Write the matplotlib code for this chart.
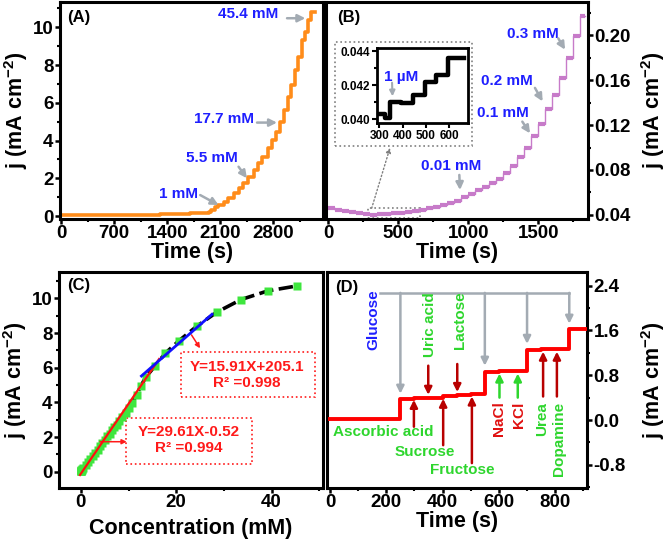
import matplotlib
matplotlib.use('Agg')
import matplotlib.pyplot as plt
from matplotlib import font_manager as fm
from matplotlib.patches import Rectangle
from matplotlib.ticker import MultipleLocator


def has_bold(name):
    for f in fm.fontManager.ttflist:
        if f.name == name and str(f.weight) in ('700', 'bold', '600', 'semibold', '800'):
            return True
    return False


family = 'DejaVu Sans'
for cand in ['Liberation Sans', 'Arimo', 'Roboto', 'Noto Sans', 'Open Sans', 'Lato', 'Inter']:
    if has_bold(cand):
        family = cand
        break
k = 0.9 if family == 'DejaVu Sans' else 1.0

plt.rcParams['font.family'] = [family, 'DejaVu Sans']
plt.rcParams['font.weight'] = 'bold'
plt.rcParams['axes.labelweight'] = 'bold'
plt.rcParams['mathtext.fontset'] = 'custom'
plt.rcParams['mathtext.rm'] = family + ':bold'
plt.rcParams['mathtext.default'] = 'rm'
plt.rcParams['axes.linewidth'] = 2.2

# ---- panel A : amperometric response, orange staircase
a_t = [0, 300, 700, 1000, 1300, 1500, 1700, 1850, 1950,
       1980, 2030, 2077, 2144, 2205, 2276, 2344, 2399, 2468, 2540, 2598, 2656,
       2730, 2784, 2832, 2884, 2937, 2993, 3037, 3089, 3128, 3180, 3214, 3263, 3295, 3345]
a_j = [0.07, 0.06, 0.06, 0.07, 0.08, 0.10, 0.14, 0.18, 0.23,
       0.32, 0.46, 0.58, 0.76, 0.94, 1.20, 1.47, 1.73, 2.08, 2.44, 2.79, 3.14,
       3.60, 4.03, 4.47, 5.00, 5.62, 6.32, 6.94, 7.74, 8.44, 9.30, 9.77, 10.40, 10.83, 10.83]
a_labels = ['1 mM', '5.5 mM', '17.7 mM', '45.4 mM']
a_text_xy = [(1550, 1.17), (1990, 3.1), (2153, 5.14), (2470, 10.7)]
a_tail = [(1836, 1.11), (2342, 2.61), (2585, 4.95), (2981, 10.48)]
a_tip = [(2078, 0.58), (2452, 2.0), (2849, 4.95), (3223, 10.48)]

# ---- panel B : low concentration staircase, purple
b_t = [0, 50, 100, 150, 200, 250, 300, 345, 395, 445, 495, 545, 595, 650, 700,
       750, 800, 850, 900, 950, 1000, 1050, 1100, 1150, 1200, 1250, 1300, 1350,
       1400, 1450, 1500, 1550, 1600, 1650, 1700, 1750, 1800, 1830]
b_j = [0.0460, 0.0448, 0.0436, 0.0426, 0.0417, 0.0410, 0.0403, 0.0410, 0.0410,
       0.0415, 0.0421, 0.0426, 0.0436, 0.0447, 0.0458, 0.0470, 0.0485, 0.0503,
       0.0522, 0.0560, 0.0590, 0.0620, 0.0650, 0.0685, 0.0720, 0.0770, 0.0836,
       0.0918, 0.0993, 0.1100, 0.1210, 0.1340, 0.1470, 0.1620, 0.1800, 0.1990,
       0.2170, 0.2170]
b_labels = ['0.01 mM', '0.1 mM', '0.2 mM', '0.3 mM']
b_text_xy = [(881, 0.0837), (1250, 0.131), (1274, 0.159), (1459, 0.201)]
b_tail = [(936, 0.0756), (1386, 0.123), (1476, 0.153), (1643, 0.197)]
b_tip = [(941, 0.0622), (1441, 0.1126), (1531, 0.141), (1691, 0.187)]

# inset of B
in_t = [300, 325, 345, 395, 445, 495, 545, 595, 665]
in_j = [0.04030, 0.04005, 0.04100, 0.04093, 0.04143, 0.04218, 0.04258, 0.04362, 0.04362]

# ---- panel C : calibration curve
c_conc = [0.0, 0.01, 0.02, 0.05, 0.1, 0.2, 0.3, 0.5, 1.0, 1.5, 2.0, 2.5, 3.0, 3.5,
          4.0, 4.5, 5.0, 5.5, 6.0, 6.5, 7.0, 7.5, 8.0, 8.7, 9.4, 10.1, 10.8, 11.7,
          12.6, 13.6, 15.6, 17.7, 20.6, 24.4, 28.5, 33.6, 39.2, 45.4]
c_j = [0.02, 0.03, 0.04, 0.05, 0.07, 0.10, 0.14, 0.20, 0.38, 0.55, 0.72, 0.90,
       1.08, 1.28, 1.47, 1.66, 1.85, 2.04, 2.20, 2.38, 2.55, 2.72, 2.90, 3.15,
       3.40, 3.70, 3.98, 4.45, 4.95, 5.45, 6.12, 6.83, 7.56, 8.41, 9.20, 9.93,
       10.43, 10.72]
fit1_x = [-0.2, 16.4]
fit1_y = [-0.19, 6.5]
fit2_x = [12.7, 27.5]
fit2_y = [5.52, 9.08]

# ---- panel D : interference test
d_t = [0, 250, 300, 350, 400, 450, 500, 550, 600, 650, 700, 750, 800, 850, 913]
d_j = [0.02, 0.38, 0.39, 0.40, 0.42, 0.44, 0.46, 0.86, 0.87, 0.88, 1.25, 1.26,
       1.27, 1.63, 1.63]
glu_t = [250, 550, 700, 850]
glu_end = [0.47, 0.97, 1.36, 1.72]

orange = '#ff8c1a'
purple = '#c77bc9'
blue = '#1f1fff'
gray = '#a3abb3'
green = '#2ed62e'
red = '#ff1a1a'
dred = '#b80000'

TICK = 13.5 * k
LAB = 15.5 * k
ANN = 11 * k

fig = plt.figure(figsize=(6.66, 5.4), dpi=100)


def style(ax, right=False):
    ax.tick_params(which='both', direction='out', labelsize=TICK, width=1.8, pad=0.8)
    ax.tick_params(which='major', length=3.8)
    ax.tick_params(which='minor', length=2.2, width=1.5)
    if right:
        ax.yaxis.tick_right()
        ax.yaxis.set_label_position('right')


def garrow(ax, tail, tip, color=gray, lw=1.8, ms=11, ls='-'):
    ax.annotate('', xy=tip, xytext=tail,
                arrowprops=dict(arrowstyle='-|>', color=color, lw=lw,
                                mutation_scale=ms, shrinkA=0, shrinkB=0, ls=ls))


# ---------------- A
ax = fig.add_axes([0.0901, 0.5944, 0.3953, 0.4019])
ax.plot(a_t, a_j, drawstyle='steps-post', color=orange, lw=2.6)
ax.set_xlim(-13, 3459)
ax.set_ylim(-0.16, 11.34)
ax.xaxis.set_major_locator(MultipleLocator(700))
ax.xaxis.set_minor_locator(MultipleLocator(350))
ax.yaxis.set_major_locator(MultipleLocator(2))
ax.yaxis.set_minor_locator(MultipleLocator(1))
style(ax)
for lab, xy, tl, tp in zip(a_labels, a_text_xy, a_tail, a_tip):
    ax.text(xy[0], xy[1], lab, color=blue, fontsize=ANN, ha='center', va='center')
    garrow(ax, tl, tp)
ax.text(0.027, 0.963, '(A)', transform=ax.transAxes, fontsize=12 * k, va='top')
ax.set_xlabel('Time (s)', fontsize=LAB, labelpad=0)
ax.set_ylabel('j (mA cm$^{-2}$)', fontsize=LAB)
ax.yaxis.set_label_coords(-0.115, 0.5)

# ---------------- B
ax = fig.add_axes([0.4895, 0.5944, 0.3934, 0.4019])
ax.plot(b_t, b_j, drawstyle='steps-post', color=purple, lw=1.0)
ax.hlines(b_j[:-1], b_t[:-1], b_t[1:], color=purple, lw=3)
ax.set_xlim(-16, 1855)
ax.set_ylim(0.0364, 0.2294)
ax.xaxis.set_major_locator(MultipleLocator(500))
ax.xaxis.set_minor_locator(MultipleLocator(250))
ax.yaxis.set_major_locator(MultipleLocator(0.04))
ax.yaxis.set_minor_locator(MultipleLocator(0.02))
ax.yaxis.set_major_formatter(plt.FormatStrFormatter('%.2f'))
style(ax, right=True)
for lab, xy, tl, tp in zip(b_labels, b_text_xy, b_tail, b_tip):
    ax.text(xy[0], xy[1], lab, color=blue, fontsize=ANN, ha='center', va='center')
    garrow(ax, tl, tp)
ax.add_patch(Rectangle((48, 0.1016), 976, 0.0924, fill=False, ls=':', lw=1.2,
                       ec='#7f7f7f'))
ax.add_patch(Rectangle((286, 0.0371), 369, 0.0089, fill=False, ls=':', lw=1.2,
                       ec='#7f7f7f'))
garrow(ax, (310, 0.046), (441, 0.0997), color='#7f7f7f', lw=1.0, ms=7, ls=':')
ax.text(0.041, 0.963, '(B)', transform=ax.transAxes, fontsize=12 * k, va='top')
ax.set_xlabel('Time (s)', fontsize=LAB, labelpad=0)
ax.set_ylabel('j (mA cm$^{-2}$)', fontsize=LAB)
ax.yaxis.set_label_coords(1.195, 0.5)

# inset
ai = fig.add_axes([0.5656, 0.7717, 0.1366, 0.1389])
ai.plot(in_t, in_j, drawstyle='steps-post', color='black', lw=3.2)
ai.set_xlim(289, 680)
ai.set_ylim(0.03976, 0.04418)
ai.xaxis.set_major_locator(MultipleLocator(100))
ai.yaxis.set_major_locator(MultipleLocator(0.002))
ai.yaxis.set_minor_locator(MultipleLocator(0.001))
ai.yaxis.set_major_formatter(plt.FormatStrFormatter('%.3f'))
for s in ai.spines.values():
    s.set_linewidth(2)
ai.tick_params(which='both', direction='out', labelsize=8.5 * k, width=1.5, pad=1.2)
ai.tick_params(which='major', length=3.5)
ai.tick_params(which='minor', length=2)
ai.text(392, 0.04250, '1 \u00b5M', color=blue, fontsize=ANN, ha='center', va='center')
garrow(ai, (355, 0.04215), (357, 0.04135), lw=1.5, ms=8)

# ---------------- C
ax = fig.add_axes([0.0886, 0.0963, 0.3964, 0.4])
ax.plot(c_conc, c_j, color='black', lw=2.6, ls=(0, (4, 1.5)), zorder=2)
ax.plot(c_conc, c_j, ls='none', marker='s', ms=6, color='#3ee63e', mec='none', zorder=3)
ax.plot(fit1_x, fit1_y, color='#ff1010', lw=1.6, zorder=4)
ax.plot(fit2_x, fit2_y, color='#1010ff', lw=2.0, zorder=4)
ax.set_xlim(-4.6, 50.8)
ax.set_ylim(-0.94, 11.52)
ax.xaxis.set_major_locator(MultipleLocator(20))
ax.xaxis.set_minor_locator(MultipleLocator(10))
ax.yaxis.set_major_locator(MultipleLocator(2))
ax.yaxis.set_minor_locator(MultipleLocator(1))
style(ax)
ax.add_patch(Rectangle((21.1, 4.29), 28.0, 2.63, fill=False, ls=':', lw=1.2, ec=red))
ax.add_patch(Rectangle((9.44, 0.43), 26.4, 2.69, fill=False, ls=':', lw=1.2, ec=red))
ax.text(34.8, 6.06, 'Y=15.91X+205.1', color=red, fontsize=ANN, ha='center', va='center')
ax.text(34.8, 5.10, 'R\u00b2 =0.998', color=red, fontsize=ANN, ha='center', va='center')
ax.text(22.6, 2.31, 'Y=29.61X-0.52', color=red, fontsize=ANN, ha='center', va='center')
ax.text(22.6, 1.35, 'R\u00b2 =0.994', color=red, fontsize=ANN, ha='center', va='center')
garrow(ax, (23.2, 7.89), (25.0, 7.12), color=red, lw=1.1, ms=7)
garrow(ax, (4.0, 1.73), (9.6, 1.73), color=red, lw=1.1, ms=7)
ax.text(0.029, 0.972, '(C)', transform=ax.transAxes, fontsize=12 * k, va='top')
ax.set_xlabel('Concentration (mM)', fontsize=LAB, labelpad=5)
ax.set_ylabel('j (mA cm$^{-2}$)', fontsize=LAB)
ax.yaxis.set_label_coords(-0.112, 0.5)

# ---------------- D
ax = fig.add_axes([0.491, 0.0963, 0.3904, 0.4])
ax.plot(d_t, d_j, drawstyle='steps-post', color='#ff0000', lw=2.8, zorder=3)
ax.set_xlim(-10.7, 913)
ax.set_ylim(-1.214, 2.643)
ax.xaxis.set_major_locator(MultipleLocator(200))
ax.xaxis.set_minor_locator(MultipleLocator(100))
ax.yaxis.set_major_locator(MultipleLocator(0.8))
ax.yaxis.set_minor_locator(MultipleLocator(0.4))
ax.yaxis.set_major_formatter(plt.FormatStrFormatter('%.1f'))
style(ax, right=True)
ax.plot([178, 850], [2.27, 2.27], color=gray, lw=1.8)
for t, e in zip(glu_t, glu_end):
    garrow(ax, (t, 2.27), (t, e))
ax.text(154, 1.79, 'Glucose', color=blue, fontsize=ANN, rotation=90, ha='center', va='center')
# interferents added from above / below
garrow(ax, (349, 0.97), (349, 0.45), color=dred, lw=1.8)
garrow(ax, (452, 1.0), (452, 0.5), color=dred, lw=1.8)
garrow(ax, (298, -0.12), (298, 0.36), color=dred, lw=1.8)
garrow(ax, (402, -0.45), (402, 0.38), color=dred, lw=1.8)
garrow(ax, (504, -0.77), (504, 0.42), color=dred, lw=1.8)
garrow(ax, (602, 0.40), (602, 0.83), color=green, lw=1.8)
garrow(ax, (667, 0.40), (667, 0.83), color=green, lw=1.8)
garrow(ax, (757, 0.42), (757, 1.22), color=dred, lw=1.8)
garrow(ax, (806, 0.42), (806, 1.22), color=dred, lw=1.8)
ax.text(355, 1.70, 'Uric acid', color=green, fontsize=ANN, rotation=90, ha='center', va='center')
ax.text(462, 1.78, 'Lactose', color=green, fontsize=ANN, rotation=90, ha='center', va='center')
ax.text(601, 0.02, 'NaCl', color='#e01010', fontsize=ANN, rotation=90, ha='center', va='center')
ax.text(671, 0.10, 'KCl', color='#e01010', fontsize=ANN, rotation=90, ha='center', va='center')
ax.text(755, 0.02, 'Urea', color=green, fontsize=ANN, rotation=90, ha='center', va='center')
ax.text(815, -0.33, 'Dopamine', color=green, fontsize=ANN, rotation=90, ha='center', va='center')
ax.text(189, -0.22, 'Ascorbic acid', color=green, fontsize=ANN, ha='center', va='center')
ax.text(337, -0.57, 'Sucrose', color=green, fontsize=ANN, ha='center', va='center')
ax.text(468, -0.89, 'Fructose', color=green, fontsize=ANN, ha='center', va='center')
ax.text(0.031, 0.962, '(D)', transform=ax.transAxes, fontsize=12 * k, va='top')
ax.set_xlabel('Time (s)', fontsize=LAB, labelpad=0)
ax.set_ylabel('j (mA cm$^{-2}$)', fontsize=LAB)
ax.yaxis.set_label_coords(1.2, 0.5)

# force bold tick labels on every axes
fig.canvas.draw()
for a in fig.axes:
    for lab in a.get_xticklabels() + a.get_yticklabels():
        lab.set_fontweight('bold')

fig.savefig('out.png', dpi=100)
